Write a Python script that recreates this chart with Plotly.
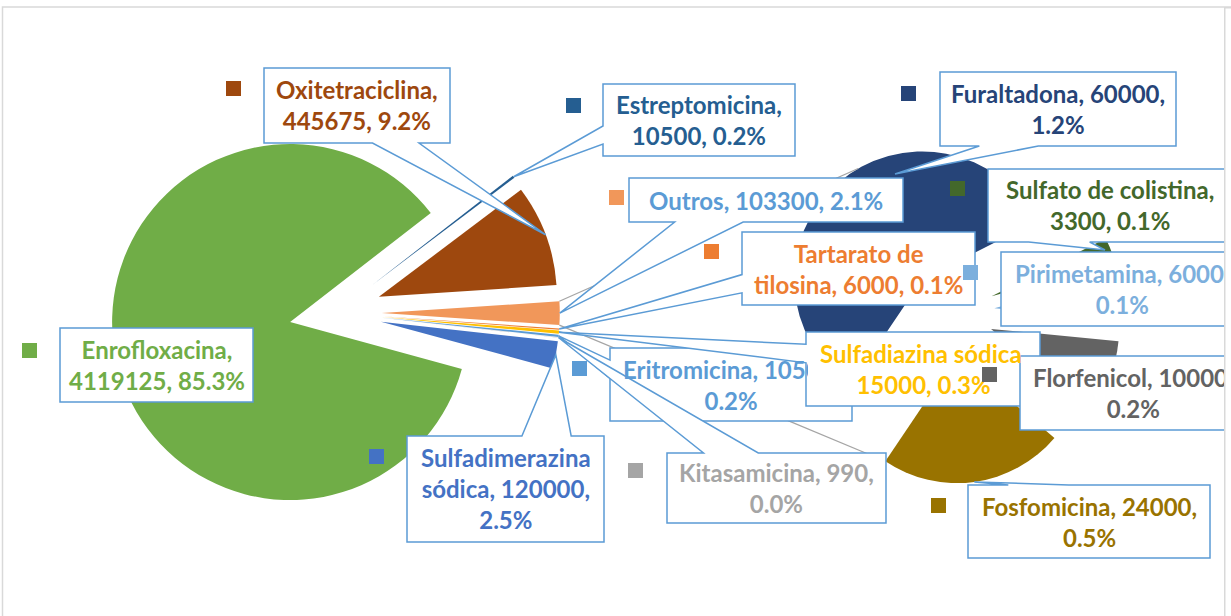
import math
import plotly.graph_objects as go

W, H = 1231, 616

# ---------------- data ----------------
left_labels = ["Estreptomicina", "Oxitetraciclina", "Outros", "Tartarato de tilosina",
               "Sulfadiazina sódica", "Eritromicina", "Kitasamicina",
               "Sulfadimerazina sódica", "Enrofloxacina"]
left_values = [10500, 445675, 103300, 6000, 15000, 10500, 990, 120000, 4119125]
left_colors = ["#255E91", "#9E480E", "#F1975A", "#ED7D31", "#FFC000", "#5B9BD5",
               "#A5A5A5", "#4472C4", "#70AD47"]

right_labels = ["Furaltadona", "Sulfato de colistina", "Pirimetamina", "Florfenicol", "Fosfomicina"]
right_values = [60000, 3300, 6000, 10000, 24000]
right_colors = ["#264478", "#43682B", "#7CAFDD", "#636363", "#997300"]

label_templates = {
    "Oxitetraciclina": "Oxitetraciclina,<br>{v}, {p}",
    "Estreptomicina": "Estreptomicina,<br>{v}, {p}",
    "Furaltadona": "Furaltadona, {v},<br>{p}",
    "Outros": "Outros, {v}, {p}",
    "Sulfato de colistina": "Sulfato de colistina,<br>{v}, {p}",
    "Tartarato de tilosina": "Tartarato de<br>tilosina, {v}, {p}",
    "Pirimetamina": "Pirimetamina, {v},<br>{p}",
    "Enrofloxacina": "Enrofloxacina,<br>{v}, {p}",
    "Sulfadiazina sódica": "Sulfadiazina sódica,<br>{v}, {p}",
    "Eritromicina": "Eritromicina, {v},<br>{p}",
    "Florfenicol": "Florfenicol, {v},<br>{p}",
    "Sulfadimerazina sódica": "Sulfadimerazina<br>sódica, {v},<br>{p}",
    "Kitasamicina": "Kitasamicina, {v},<br>{p}",
    "Fosfomicina": "Fosfomicina, {v},<br>{p}",
}

# ---------------- layout / style ----------------
LEFT = dict(cx=335.5, cy=313, r=178, pull=0.26, rot=52.2)
RIGHT = dict(cx=951, cy=312, r=128, pull=0.34, rot=-146)

# label boxes (l, t, r, b) in px, marker squares (x, y) in px
boxes = {
    "Enrofloxacina": (60, 328, 253, 402),
    "Oxitetraciclina": (264, 68, 450, 143),
    "Estreptomicina": (603, 84, 795, 156),
    "Furaltadona": (940, 72, 1176, 146),
    "Outros": (629, 178, 903, 222),
    "Sulfato de colistina": (988, 169, 1232, 242),
    "Tartarato de tilosina": (742, 232, 975, 305),
    "Pirimetamina": (1001, 252, 1243, 326),
    "Eritromicina": (610, 348, 852, 421),
    "Sulfadiazina sódica": (806, 332, 1040, 406),
    "Florfenicol": (1020, 356, 1246, 430),
    "Sulfadimerazina sódica": (407, 436, 604, 542),
    "Kitasamicina": (667, 453, 886, 523),
    "Fosfomicina": (968, 485, 1210, 558),
}
markers = {
    "Enrofloxacina": (22, 343), "Oxitetraciclina": (226, 81), "Estreptomicina": (566, 98),
    "Furaltadona": (901, 86), "Outros": (609, 190), "Sulfato de colistina": (950, 181),
    "Tartarato de tilosina": (704, 244), "Pirimetamina": (963, 265), "Eritromicina": (572, 361),
    "Florfenicol": (982, 367), "Sulfadimerazina sódica": (369, 449), "Kitasamicina": (628, 463),
    "Fosfomicina": (931, 498),
}
tip_override = {"Furaltadona": (895, 174), "Sulfato de colistina": (1105, 250)}
covers = {"Sulfadiazina sódica": (808, 334, 1018, 404), "Florfenicol": (1022, 358, 1260, 428)}
z_order = ["Enrofloxacina", "Oxitetraciclina", "Estreptomicina", "Furaltadona", "Outros",
           "Sulfato de colistina", "Tartarato de tilosina", "Pirimetamina", "Eritromicina",
           "Sulfadiazina sódica", "Florfenicol", "Sulfadimerazina sódica", "Kitasamicina",
           "Fosfomicina"]

FONT = "Lato"
FSIZE = 24
LINE_BLUE = "#5B9BD5"

total = sum(left_values)
color_of = dict(zip(left_labels, left_colors))
color_of.update(dict(zip(right_labels, right_colors)))
value_of = dict(zip(left_labels, left_values))
value_of.update(dict(zip(right_labels, right_values)))
color_of["Outros"] = "#5B9BD5"  # text colour for the composite label
marker_color = dict(zip(left_labels, left_colors))
marker_color.update(dict(zip(right_labels, right_colors)))


def px(x, y):
    return x / W, 1 - y / H


def domain(g):
    half = g["r"] * (1 + g["pull"])
    return dict(x=[(g["cx"] - half) / W, (g["cx"] + half) / W],
                y=[1 - (g["cy"] + half) / H, 1 - (g["cy"] - half) / H])


def d(a):
    return math.sin(math.radians(a)), -math.cos(math.radians(a))


def geom(values, idx, g):
    tot = sum(values)
    cum = sum(values[:idx])
    a0 = g["rot"] + cum / tot * 360
    a1 = a0 + values[idx] / tot * 360
    am = (a0 + a1) / 2
    ox = g["cx"] + g["pull"] * g["r"] * d(am)[0]
    oy = g["cy"] + g["pull"] * g["r"] * d(am)[1]
    return (ox, oy), a0, a1, am


def on_arc(apex, a, r):
    return apex[0] + r * d(a)[0], apex[1] + r * d(a)[1]


tips = {}
for i, lab in enumerate(left_labels):
    apex, a0, a1, am = geom(left_values, i, LEFT)
    tips[lab] = on_arc(apex, am, LEFT["r"])
for i, lab in enumerate(right_labels):
    apex, a0, a1, am = geom(right_values, i, RIGHT)
    tips[lab] = on_arc(apex, am, RIGHT["r"])
tips.update(tip_override)


def callout_path(box, tip):
    l, t, r, b = box
    tx, ty = tip
    w, h = r - l, b - t
    pts = None
    if not (l <= tx <= r and t <= ty <= b):
        dx, dy = tx - (l + r) / 2, ty - (t + b) / 2
        dq = dx * h / w
        if abs(dy) > abs(dq):
            x1, x2 = (l + w * 7 / 12, l + w * 10 / 12) if dx > 0 else (l + w * 2 / 12, l + w * 5 / 12)
            if dy > 0:
                pts = [(l, t), (r, t), (r, b), (x2, b), (tx, ty), (x1, b), (l, b)]
            else:
                pts = [(l, t), (x1, t), (tx, ty), (x2, t), (r, t), (r, b), (l, b)]
        else:
            y1, y2 = (t + h * 7 / 12, t + h * 10 / 12) if dy > 0 else (t + h * 2 / 12, t + h * 5 / 12)
            if dx > 0:
                pts = [(l, t), (r, t), (r, y1), (tx, ty), (r, y2), (r, b), (l, b)]
            else:
                pts = [(l, t), (r, t), (r, b), (l, b), (l, y2), (tx, ty), (l, y1)]
    if pts is None:
        pts = [(l, t), (r, t), (r, b), (l, b)]
    s = ""
    for k, (x, y) in enumerate(pts):
        X, Y = px(x, y)
        s += ("M" if k == 0 else "L") + f"{X:.6f},{Y:.6f} "
    return s + "Z"


fig = go.Figure()
fig.add_trace(go.Pie(labels=left_labels, values=left_values, sort=False, direction="clockwise",
                     rotation=LEFT["rot"], pull=[LEFT["pull"]] * len(left_values),
                     marker=dict(colors=left_colors, line=dict(width=0)),
                     textinfo="none", hoverinfo="skip", domain=domain(LEFT), showlegend=False))
fig.add_trace(go.Pie(labels=right_labels, values=right_values, sort=False, direction="clockwise",
                     rotation=RIGHT["rot"], pull=[RIGHT["pull"]] * len(right_values),
                     marker=dict(colors=right_colors, line=dict(width=0)),
                     textinfo="none", hoverinfo="skip", domain=domain(RIGHT), showlegend=False))

shapes = []
# chart area border
x0, y0 = px(2.5, 7)
x1, y1 = px(1300, 700)
shapes.append(dict(type="rect", xref="paper", yref="paper", x0=x0, y0=y0, x1=x1, y1=y1,
                   line=dict(color="#D9D9D9", width=1.5), fillcolor="rgba(0,0,0,0)", layer="below"))

# series lines between the "Outros" slice and the second pie
io = left_labels.index("Outros")
apex_o, a0o, a1o, _ = geom(left_values, io, LEFT)
p_top = on_arc(apex_o, a0o, LEFT["r"])
p_bot = on_arc(apex_o, a1o, LEFT["r"])
apex_f, _, a1f, _ = geom(right_values, len(right_values) - 1, RIGHT)
q_bot = on_arc(apex_f, a1f, RIGHT["r"])
apex_b, _, _, _ = geom(right_values, 0, RIGHT)
q_top = on_arc(apex_b, 330, RIGHT["r"])
for p, q in ((p_top, q_top), (p_bot, q_bot)):
    X0, Y0 = px(*p)
    X1, Y1 = px(*q)
    shapes.append(dict(type="line", xref="paper", yref="paper", x0=X0, y0=Y0, x1=X1, y1=Y1,
                       line=dict(color="#A5A5A5", width=1.2), layer="above"))

for lab in z_order:
    shapes.append(dict(type="path", xref="paper", yref="paper", path=callout_path(boxes[lab], tips[lab]),
                       fillcolor="white", line=dict(color=LINE_BLUE, width=1.5), layer="above"))
fig.update_layout(shapes=shapes)


def rect_ann(l, t, r, b, color, border=None):
    X, Y = px(l, t)
    a = dict(xref="paper", yref="paper", x=X, y=Y, xanchor="left", yanchor="top", text=" ",
             showarrow=False, width=r - l, height=b - t, bgcolor=color, borderpad=0,
             borderwidth=0, font=dict(size=2))
    if border:
        a.update(bordercolor=border, borderwidth=1.5)
    return a


anns = []
for lab in z_order:
    if lab in covers:
        anns.append(rect_ann(*covers[lab], "white"))
    if lab in markers:
        mx, my = markers[lab]
        anns.append(rect_ann(mx, my, mx + 15, my + 15, marker_color[lab]))
    v = value_of[lab]
    p = f"{v / total * 100:.1f}%"
    text = label_templates[lab].format(v=v, p=p)
    l, t, r, b = boxes[lab]
    X, Y = px((l + r) / 2, (t + b) / 2)
    anns.append(dict(xref="paper", yref="paper", x=X, y=Y, xanchor="center", yanchor="middle",
                     text=text, showarrow=False, align="center",
                     font=dict(family=FONT, size=FSIZE, color=color_of[lab], weight="bold")))
# right edge of the chart area clips the labels
anns.append(rect_ann(1224, 7, 1300, 700, "white", border="#D9D9D9"))

fig.update_layout(annotations=anns, width=W, height=H, margin=dict(l=0, r=0, t=0, b=0),
                  paper_bgcolor="white", plot_bgcolor="white", showlegend=False)
fig.write_html("out.html", config={"displayModeBar": False},
               post_script="document.body.style.margin='0px';")
